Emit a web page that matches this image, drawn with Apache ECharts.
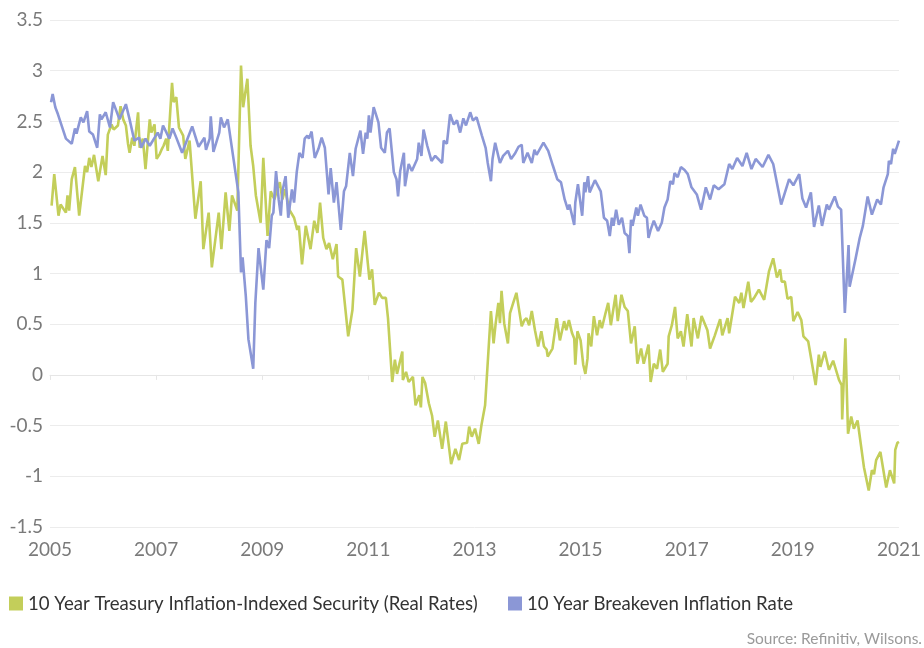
<!DOCTYPE html>
<html>
<head>
<meta charset="utf-8">
<script src="https://cdn.jsdelivr.net/npm/echarts@6/dist/echarts.min.js"></script>
<style>
html,body{margin:0;padding:0;background:#fff;}
#chart{width:924px;height:648px;}
</style>
</head>
<body>
<div id="chart"></div>
<script>
// 10 Year Treasury Inflation-Indexed Security (Real Rates)
const realYears = [2005.03,2005.08,2005.16,2005.2,2005.3,2005.33,2005.36,2005.41,2005.47,2005.55,2005.66,2005.7,2005.74,2005.78,2005.83,2005.91,2005.99,2006.05,2006.09,2006.16,2006.2,2006.28,2006.33,2006.38,2006.43,2006.47,2006.5,2006.55,2006.59,2006.66,2006.69,2006.75,2006.8,2006.88,2006.91,2006.97,2007.01,2007.07,2007.11,2007.14,2007.19,2007.22,2007.3,2007.33,2007.38,2007.43,2007.51,2007.55,2007.63,2007.74,2007.84,2007.89,2007.99,2008.05,2008.18,2008.23,2008.31,2008.38,2008.43,2008.53,2008.6,2008.64,2008.72,2008.78,2008.83,2008.88,2008.97,2009.02,2009.1,2009.16,2009.23,2009.28,2009.33,2009.38,2009.43,2009.51,2009.6,2009.66,2009.69,2009.75,2009.82,2009.91,2009.98,2010.04,2010.09,2010.15,2010.21,2010.26,2010.33,2010.4,2010.43,2010.51,2010.62,2010.7,2010.77,2010.84,2010.93,2011.02,2011.07,2011.12,2011.2,2011.26,2011.33,2011.37,2011.4,2011.45,2011.5,2011.54,2011.64,2011.65,2011.71,2011.76,2011.84,2011.89,2011.96,2011.99,2012.02,2012.07,2012.14,2012.2,2012.25,2012.31,2012.39,2012.46,2012.56,2012.64,2012.71,2012.77,2012.86,2012.9,2012.95,2013.01,2013.08,2013.13,2013.2,2013.31,2013.36,2013.4,2013.45,2013.48,2013.51,2013.56,2013.63,2013.67,2013.73,2013.79,2013.89,2013.94,2013.98,2014.03,2014.08,2014.14,2014.2,2014.26,2014.31,2014.36,2014.38,2014.47,2014.55,2014.61,2014.69,2014.73,2014.78,2014.84,2014.88,2014.9,2014.94,2015.0,2015.05,2015.09,2015.13,2015.15,2015.2,2015.25,2015.31,2015.36,2015.4,2015.47,2015.52,2015.57,2015.66,2015.7,2015.77,2015.83,2015.89,2015.95,2016.02,2016.07,2016.14,2016.19,2016.28,2016.32,2016.38,2016.44,2016.5,2016.55,2016.64,2016.66,2016.72,2016.78,2016.83,2016.89,2016.94,2017.01,2017.09,2017.13,2017.21,2017.28,2017.39,2017.44,2017.53,2017.63,2017.67,2017.77,2017.8,2017.91,2017.99,2018.03,2018.07,2018.16,2018.21,2018.27,2018.36,2018.46,2018.55,2018.63,2018.7,2018.76,2018.79,2018.85,2018.9,2018.97,2019.01,2019.09,2019.16,2019.2,2019.29,2019.43,2019.49,2019.52,2019.6,2019.68,2019.76,2019.87,2019.92,2019.93,2019.99,2020.04,2020.1,2020.15,2020.22,2020.34,2020.43,2020.49,2020.53,2020.57,2020.65,2020.76,2020.83,2020.91,2020.93,2020.97,2021.0];
const realRates = [1.67,1.98,1.57,1.68,1.60,1.77,1.62,1.93,2.05,1.57,2.06,2.00,2.14,2.05,2.17,1.91,2.16,1.97,2.37,2.47,2.42,2.46,2.65,2.52,2.46,2.28,2.19,2.34,2.26,2.59,2.24,2.33,2.03,2.52,2.39,2.47,2.13,2.18,2.23,2.26,2.33,2.21,2.88,2.69,2.74,2.44,2.36,2.13,2.31,1.54,1.91,1.24,1.60,1.06,1.60,1.24,1.80,1.42,1.77,1.62,3.05,2.64,2.92,2.26,2.06,1.77,1.50,2.14,1.37,1.81,1.73,1.83,1.90,1.73,1.83,1.63,1.55,1.43,1.47,1.09,1.47,1.24,1.52,1.40,1.70,1.35,1.24,1.30,1.14,1.29,0.97,0.94,0.38,0.64,1.25,0.97,1.42,0.94,1.04,0.69,0.81,0.76,0.76,0.56,0.57,-0.07,0.15,0.01,0.23,-0.05,0.03,-0.07,-0.02,-0.30,-0.20,-0.32,-0.02,-0.08,-0.28,-0.40,-0.61,-0.45,-0.73,-0.46,-0.88,-0.73,-0.84,-0.68,-0.67,-0.51,-0.61,-0.53,-0.68,-0.50,-0.30,0.63,0.31,0.51,0.71,0.51,0.83,0.51,0.31,0.61,0.71,0.81,0.48,0.54,0.56,0.49,0.63,0.44,0.28,0.43,0.28,0.25,0.18,0.26,0.56,0.34,0.53,0.44,0.54,0.41,0.36,0.10,0.43,0.34,0.10,0.01,0.16,0.41,0.28,0.58,0.39,0.54,0.46,0.61,0.71,0.49,0.79,0.53,0.79,0.67,0.63,0.31,0.48,0.11,0.26,0.11,0.30,-0.07,0.11,0.06,0.25,0.03,0.11,0.38,0.49,0.67,0.36,0.43,0.28,0.60,0.28,0.56,0.36,0.58,0.44,0.26,0.39,0.55,0.39,0.56,0.41,0.77,0.71,0.81,0.66,0.92,0.72,0.76,0.84,0.74,1.02,1.15,0.96,1.04,0.92,0.92,0.75,0.77,0.53,0.62,0.54,0.38,0.33,-0.10,0.20,0.08,0.23,0.05,0.14,-0.05,-0.10,-0.44,0.36,-0.58,-0.41,-0.53,-0.45,-0.91,-1.14,-0.94,-0.98,-0.84,-0.76,-1.11,-0.94,-1.07,-0.74,-0.67,-0.66];

// 10 Year Breakeven Inflation Rate
const beYears = [2005.02,2005.05,2005.1,2005.15,2005.3,2005.41,2005.47,2005.5,2005.58,2005.63,2005.7,2005.74,2005.81,2005.89,2005.94,2005.97,2006.05,2006.13,2006.19,2006.31,2006.43,2006.5,2006.59,2006.68,2006.72,2006.8,2006.88,2007.03,2007.08,2007.13,2007.25,2007.31,2007.38,2007.49,2007.68,2007.8,2007.91,2007.94,2008.01,2008.03,2008.08,2008.19,2008.22,2008.28,2008.35,2008.55,2008.6,2008.63,2008.69,2008.74,2008.83,2008.87,2008.93,2009.02,2009.08,2009.13,2009.18,2009.21,2009.26,2009.31,2009.35,2009.38,2009.44,2009.49,2009.56,2009.6,2009.65,2009.7,2009.76,2009.8,2009.85,2009.88,2009.93,2009.99,2010.06,2010.12,2010.18,2010.25,2010.29,2010.35,2010.4,2010.48,2010.54,2010.58,2010.65,2010.71,2010.76,2010.85,2010.9,2010.95,2010.98,2011.01,2011.04,2011.1,2011.19,2011.24,2011.31,2011.35,2011.4,2011.48,2011.53,2011.56,2011.6,2011.67,2011.69,2011.76,2011.82,2011.92,2011.95,2012.0,2012.04,2012.11,2012.19,2012.26,2012.39,2012.42,2012.48,2012.54,2012.61,2012.67,2012.73,2012.79,2012.84,2012.92,2012.97,2013.04,2013.14,2013.21,2013.25,2013.31,2013.34,2013.39,2013.48,2013.54,2013.63,2013.69,2013.76,2013.83,2013.89,2013.92,2014.0,2014.08,2014.13,2014.17,2014.3,2014.39,2014.48,2014.56,2014.63,2014.7,2014.76,2014.79,2014.88,2014.9,2014.95,2015.03,2015.07,2015.09,2015.14,2015.17,2015.27,2015.38,2015.44,2015.5,2015.55,2015.59,2015.62,2015.67,2015.72,2015.78,2015.83,2015.89,2015.92,2015.95,2015.98,2016.05,2016.08,2016.13,2016.2,2016.25,2016.28,2016.32,2016.38,2016.46,2016.53,2016.58,2016.64,2016.69,2016.74,2016.77,2016.83,2016.89,2016.96,2017.02,2017.09,2017.19,2017.27,2017.36,2017.44,2017.51,2017.6,2017.71,2017.8,2017.86,2017.95,2018.05,2018.13,2018.22,2018.3,2018.43,2018.54,2018.63,2018.78,2018.93,2019.01,2019.12,2019.18,2019.25,2019.34,2019.4,2019.49,2019.55,2019.64,2019.68,2019.79,2019.85,2019.91,2019.98,2020.05,2020.07,2020.18,2020.26,2020.32,2020.41,2020.49,2020.59,2020.66,2020.71,2020.79,2020.81,2020.85,2020.89,2020.92,2021.0];
const beRates = [2.69,2.77,2.64,2.57,2.33,2.28,2.43,2.38,2.54,2.49,2.60,2.40,2.37,2.24,2.57,2.52,2.59,2.44,2.69,2.52,2.67,2.52,2.31,2.34,2.24,2.33,2.26,2.39,2.33,2.46,2.33,2.43,2.34,2.19,2.45,2.25,2.34,2.22,2.33,2.55,2.20,2.39,2.54,2.44,2.52,1.80,1.01,1.16,0.78,0.35,0.06,0.71,1.25,0.84,1.33,1.25,1.57,1.60,2.01,1.73,1.57,1.81,1.96,1.55,1.83,1.70,2.00,2.19,2.14,2.33,2.36,2.33,2.40,2.14,2.23,2.34,2.24,1.78,2.04,1.70,1.90,1.43,1.81,1.86,2.19,1.96,2.23,2.41,2.18,2.39,2.33,2.56,2.39,2.64,2.49,2.24,2.19,2.39,2.43,2.00,1.93,1.76,2.01,2.19,1.86,2.08,2.01,2.13,2.29,2.16,2.42,2.26,2.11,2.16,2.09,2.31,2.28,2.57,2.47,2.51,2.39,2.53,2.46,2.59,2.51,2.54,2.36,2.24,2.09,1.91,2.13,2.29,2.09,2.16,2.21,2.13,2.18,2.25,2.27,2.09,2.19,2.09,2.22,2.17,2.29,2.21,2.06,1.93,1.90,1.73,1.63,1.68,1.48,1.70,1.88,1.57,1.90,1.80,1.96,1.80,1.92,1.81,1.55,1.52,1.37,1.55,1.47,1.63,1.48,1.55,1.40,1.37,1.20,1.53,1.47,1.65,1.57,1.68,1.57,1.55,1.35,1.43,1.52,1.42,1.50,1.65,1.73,1.91,1.88,1.99,1.95,2.05,2.02,1.98,1.85,1.78,1.63,1.85,1.73,1.87,1.83,1.88,2.08,2.03,2.14,2.06,2.19,2.03,2.13,2.05,2.17,2.08,1.68,1.93,1.87,1.98,1.74,1.65,1.80,1.46,1.67,1.47,1.68,1.63,1.76,1.66,1.63,0.61,1.28,0.87,1.14,1.35,1.47,1.76,1.58,1.73,1.68,1.85,1.98,2.11,2.08,2.23,2.18,2.31];

const yearTicks = [2005, 2007, 2009, 2011, 2013, 2015, 2017, 2019, 2021];
const seriesNames = ['10 Year Treasury Inflation-Indexed Security (Real Rates)', '10 Year Breakeven Inflation Rate'];

const chart = echarts.init(document.getElementById('chart'), null, {renderer: 'canvas'});
const FONT = 'Lato, "Open Sans", sans-serif';
chart.setOption({
  animation: false,
  backgroundColor: '#ffffff',
  grid: {left: 50, right: 22, top: 20, bottom: 121, containLabel: false},
  xAxis: {
    type: 'value',
    min: 2005, max: 2021, interval: 2,
    axisLine: {show: true, lineStyle: {color: '#e6e6e6', width: 1}},
    axisTick: {show: true, length: 5, lineStyle: {color: '#e6e6e6'}},
    splitLine: {show: false},
    axisLabel: {
      color: '#7a7a7a', fontSize: 19, fontFamily: FONT, margin: 13,
      formatter: v => yearTicks.includes(v) ? String(v) : ''
    }
  },
  yAxis: {
    type: 'value',
    min: -1.5, max: 3.5, interval: 0.5,
    axisLine: {show: false},
    axisTick: {show: false},
    splitLine: {show: true, lineStyle: {color: '#ececec', width: 1}},
    axisLabel: {color: '#7a7a7a', fontSize: 19, fontFamily: FONT, margin: 7}
  },
  legend: [
    {
      data: [seriesNames[0]], left: 4, top: 589, icon: 'rect',
      itemWidth: 14, itemHeight: 14, itemGap: 10,
      textStyle: {color: '#333333', fontSize: 18.6, fontFamily: FONT, padding: [0, 0, 0, 0]}
    },
    {
      data: [seriesNames[1]], left: 503, top: 589, icon: 'rect',
      itemWidth: 14, itemHeight: 14, itemGap: 10,
      textStyle: {color: '#333333', fontSize: 18.6, fontFamily: FONT, padding: [0, 0, 0, 0]}
    }
  ],
  graphic: [{
    type: 'text', right: 2, top: 631,
    style: {text: 'Source: Refinitiv, Wilsons.', fill: '#9a9a9a', font: '15.5px ' + FONT}
  }],
  series: [
    {
      name: seriesNames[0], type: 'line', showSymbol: false,
      data: realYears.map((y, i) => [y, realRates[i]]),
      lineStyle: {color: '#c3ce5a', width: 2.6}, itemStyle: {color: '#c3ce5a'}
    },
    {
      name: seriesNames[1], type: 'line', showSymbol: false,
      data: beYears.map((y, i) => [y, beRates[i]]),
      lineStyle: {color: '#8b97d6', width: 2.6}, itemStyle: {color: '#8b97d6'}
    }
  ]
});
</script>
</body>
</html>
